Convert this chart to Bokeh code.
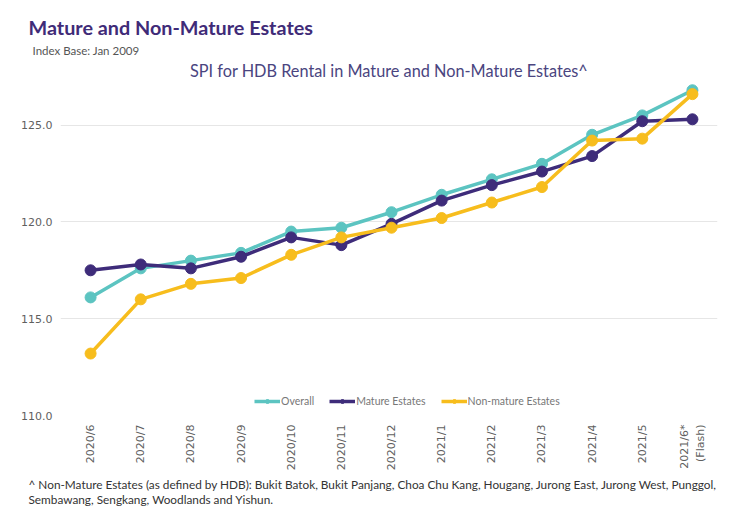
import math
from bokeh.plotting import figure
from bokeh.models import Title, FixedTicker, NumeralTickFormatter, Legend, ColumnDataSource
from bokeh.embed import file_html
from bokeh.resources import INLINE

months = ["2020/6", "2020/7", "2020/8", "2020/9", "2020/10", "2020/11", "2020/12",
          "2021/1", "2021/2", "2021/3", "2021/4", "2021/5", "2021/6*\n(Flash)"]
overall = [116.1, 117.6, 118.0, 118.4, 119.5, 119.7, 120.5, 121.4, 122.2, 123.0, 124.5, 125.5, 126.8]
mature = [117.5, 117.8, 117.6, 118.2, 119.2, 118.8, 119.9, 121.1, 121.9, 122.6, 123.4, 125.2, 125.3]
non_mature = [113.2, 116.0, 116.8, 117.1, 118.3, 119.2, 119.7, 120.2, 121.0, 121.8, 124.2, 124.3, 126.6]
y_ticks = [110, 115, 120, 125]

series = [
    ("Overall", overall, "#5CC4C1"),
    ("Mature Estates", mature, "#3E2C7A"),
    ("Non-mature Estates", non_mature, "#F7BD1D"),
]

idx = list(range(len(months)))

p = figure(width=745, height=508, output_backend="svg", toolbar_location=None,
           x_range=(-0.6, 12.5), y_range=(110, 127.2),
           min_border_left=60, min_border_right=28, min_border_top=82, min_border_bottom=93)
p.outline_line_color = None
p.background_fill_color = "white"
p.border_fill_color = "white"

legend_items = []
for name, vals, col in series:
    src = ColumnDataSource(dict(x=idx, y=vals))
    l = p.line("x", "y", source=src, line_color=col, line_width=3.5)
    s = p.scatter("x", "y", source=src, size=11, fill_color=col, line_color=col)
    legend_items.append((name, [l, s]))

legend = Legend(items=legend_items, orientation="horizontal", location=(194, 8),
                padding=0, margin=0, spacing=15, label_standoff=1,
                glyph_width=26, glyph_height=10,
                label_text_font="Lato", label_text_font_size="10.5px",
                label_text_color="#777777", background_fill_alpha=0,
                border_line_color=None)
p.add_layout(legend, "center")

# axes
p.xaxis.ticker = FixedTicker(ticks=idx)
p.xaxis.major_label_overrides = {i: m for i, m in enumerate(months)}
p.xaxis.major_label_orientation = math.pi / 2
p.yaxis.ticker = FixedTicker(ticks=y_ticks)
p.yaxis.formatter = NumeralTickFormatter(format="0.0")
for ax in (p.xaxis, p.yaxis):
    ax.axis_line_color = None
    ax.major_tick_line_color = None
    ax.minor_tick_line_color = None
    ax.major_label_text_font = "DejaVu Sans"
    ax.major_label_text_font_size = "11px"
    ax.major_label_text_color = "#5f5f5f"
p.xaxis.major_label_standoff = 3
p.yaxis.major_label_standoff = 2
p.xgrid.grid_line_color = None
p.ygrid.grid_line_color = "#e6e6e6"
p.ygrid.grid_line_width = 1

# titles above (first added = closest to the frame)
p.add_layout(Title(text="SPI for HDB Rental in Mature and Non-Mature Estates^", align="center",
                   text_font="Lato", text_font_size="16.3px", text_color="#4A4580",
                   text_font_style="normal", standoff=5), "above")
p.add_layout(Title(text="Index Base: Jan 2009", align="left", offset=-28,
                   text_font="Lato", text_font_size="11.5px", text_color="#555555",
                   text_font_style="normal", standoff=0), "above")
p.add_layout(Title(text="Mature and Non-Mature Estates", align="left", offset=-32,
                   text_font="Lato", text_font_size="19.8px", text_color="#3F2B78",
                   text_font_style="bold", standoff=5), "above")

# footnote below the x axis
p.add_layout(Title(text="^ Non-Mature Estates (as defined by HDB): Bukit Batok, Bukit Panjang, Choa Chu Kang, Hougang, Jurong East, Jurong West, Punggol,\nSembawang, Sengkang, Woodlands and Yishun.",
                   align="left", offset=-32, text_font="Lato", text_font_size="11.8px",
                   text_color="#333333", text_font_style="normal", text_line_height=1.0,
                   standoff=2), "below")

open("out.html", "w").write(file_html(p, INLINE))
